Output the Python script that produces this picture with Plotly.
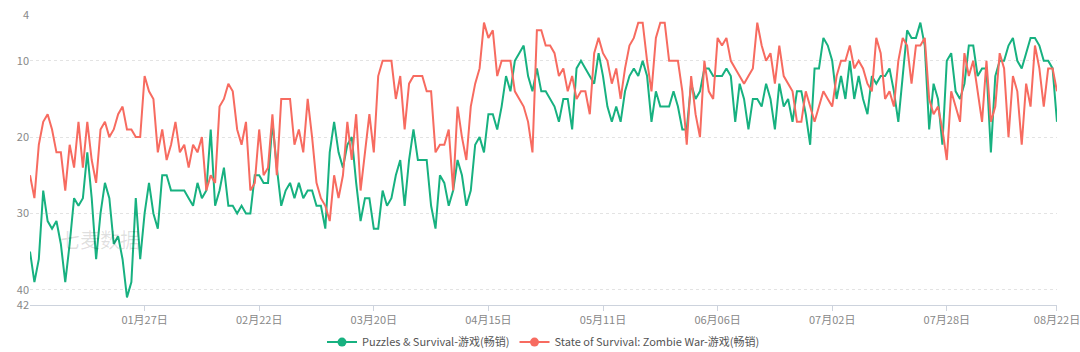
import pandas as pd
import plotly.graph_objects as go

start_date = "2022-01-01"
end_date = "2022-08-22"

puzzles_name = "Puzzles & Survival-游戏(畅销)"
state_name = "State of Survival: Zombie War-游戏(畅销)"

puzzles_rank = [
    35, 39, 36, 27, 31, 32, 31, 34, 39, 34,
    28, 29, 28, 22, 28, 36, 30, 26, 28, 34,
    33, 36, 41, 39, 28, 36, 30, 26, 30, 32,
    25, 25, 27, 27, 27, 27, 28, 29, 26, 28,
    27, 19, 29, 27, 24, 29, 29, 30,
    29, 30, 30, 25, 25, 26, 26, 18, 24, 29,
    27, 26, 28, 26, 28, 27, 27, 29, 29, 32,
    22, 18, 22, 24, 21, 20, 26, 31, 28, 28,
    32, 32, 27, 29, 28, 25, 23, 29, 23, 19,
    23, 23, 23, 29, 32, 25, 26, 29,
    27, 23, 25, 29, 27, 21, 20, 22, 17, 17,
    19, 16, 12, 14, 10, 9, 8, 12, 14, 11,
    14, 14, 15, 16, 18, 15, 15, 19, 11, 10,
    11, 12, 13, 9, 12, 16, 18, 16, 18, 14,
    12, 11, 12, 10, 12, 18, 14, 16,
    16, 16, 14, 16, 19, 19, 13, 15, 14, 11,
    11, 12, 12, 12, 11, 12, 18, 13, 15, 19,
    15, 15, 16, 13, 15, 19, 13, 16, 15, 18,
    14, 14, 17, 21, 11, 11, 7, 8, 10, 15,
    12, 15, 10, 15, 12, 15, 17, 12, 13, 12,
    12, 11, 14, 18, 12, 6, 7, 7, 5, 8,
    19, 13, 15, 21, 10, 9, 14, 15, 13, 8,
    8, 12, 11, 11, 22, 12, 10, 10, 8, 7,
    10, 11, 9, 7, 7, 8, 10, 10, 11, 18,
]

state_rank = [
    25, 28, 21, 18, 17, 19, 22, 22, 27, 21,
    24, 18, 24, 18, 23, 26, 19, 18, 20, 19,
    17, 16, 19, 19, 20, 20, 12, 14, 15, 22,
    19, 23, 21, 18, 22, 21, 24, 21, 22, 20,
    27, 25, 26, 16, 15, 13, 14, 19,
    21, 18, 27, 26, 19, 25, 24, 17, 25, 15,
    15, 15, 21, 19, 22, 15, 20, 26, 28, 29,
    31, 25, 28, 25, 18, 23, 17, 27, 22, 17,
    22, 12, 10, 10, 10, 15, 12, 19, 13, 12,
    12, 12, 14, 14, 22, 21, 21, 19,
    27, 16, 20, 23, 16, 13, 11, 5, 7, 6,
    12, 10, 10, 10, 14, 15, 16, 18, 22, 6,
    6, 8, 8, 9, 12, 11, 14, 12, 15, 14,
    14, 17, 9, 7, 9, 10, 13, 11, 15, 11,
    8, 7, 5, 5, 10, 14, 7, 5,
    5, 10, 10, 10, 14, 21, 12, 17, 20, 10,
    14, 15, 7, 8, 7, 10, 11, 12, 13, 12,
    11, 5, 8, 10, 9, 13, 8, 12, 13, 14,
    18, 18, 14, 16, 18, 16, 14, 15, 16, 12,
    10, 10, 8, 11, 10, 11, 13, 14, 7, 9,
    15, 14, 16, 10, 7, 8, 13, 8, 8, 7,
    15, 17, 16, 19, 23, 14, 16, 18, 9, 12,
    10, 14, 18, 10, 18, 16, 9, 11, 20, 12,
    14, 21, 13, 16, 8, 11, 16, 11, 11, 14,
]

x_tick_dates = ["2022-01-27", "2022-02-22", "2022-03-20", "2022-04-15",
                "2022-05-11", "2022-06-06", "2022-07-02", "2022-07-28", "2022-08-22"]
x_tick_labels = ["01月27日", "02月22日", "03月20日", "04月15日",
                 "05月11日", "06月06日", "07月02日", "07月28日", "08月22日"]
y_tick_vals = [4, 10, 20, 30, 40, 42]

dates = pd.date_range(start_date, end_date, freq="D")

green = "#17b180"
red = "#f76b60"
font_family = "Noto Sans CJK SC, Noto Sans, sans-serif"

fig = go.Figure()
fig.add_trace(go.Scatter(x=dates, y=puzzles_rank, mode="lines",
                         line=dict(color=green, width=2), showlegend=False,
                         name=puzzles_name))
fig.add_trace(go.Scatter(x=dates, y=state_rank, mode="lines",
                         line=dict(color=red, width=2), showlegend=False,
                         name=state_name))
# legend entries
fig.add_trace(go.Scatter(x=[None], y=[None], mode="lines+markers",
                         line=dict(color=green, width=2),
                         marker=dict(size=9, color=green), name=puzzles_name))
fig.add_trace(go.Scatter(x=[None], y=[None], mode="lines+markers",
                         line=dict(color=red, width=2),
                         marker=dict(size=9, color=red), name=state_name))

fig.update_layout(
    width=1080, height=352,
    margin=dict(l=30, r=23, t=15, b=47, autoexpand=False),
    paper_bgcolor="white", plot_bgcolor="white",
    font=dict(family=font_family, size=11, color="#888"),
    legend=dict(orientation="h", x=0.5, xanchor="center", y=-0.128, yanchor="middle",
                font=dict(size=11, color="#555"), itemwidth=30, tracegroupgap=0),
    annotations=[dict(text="七麦数据", x=0.027, y=0.225, xref="paper", yref="paper",
                      xanchor="left", yanchor="middle", showarrow=False,
                      font=dict(size=20, color="rgba(0,0,0,0.13)", family=font_family))],
)
fig.update_xaxes(
    range=[dates[0], pd.Timestamp(end_date) + pd.Timedelta(minutes=2)],
    tickmode="array", tickvals=x_tick_dates, ticktext=x_tick_labels,
    showgrid=False, showline=True, linecolor="#cdd3dd", linewidth=1,
    ticks="outside", ticklen=5, tickcolor="#cdd3dd",
    tickfont=dict(size=11, color="#888"), zeroline=False,
    ticklabeloverflow="allow",
)
fig.update_yaxes(
    range=[42, 4], tickmode="array", tickvals=y_tick_vals,
    showgrid=True, gridcolor="#e3e3e3", griddash="dot", gridwidth=1,
    showline=False, zeroline=False, ticks="",
    tickfont=dict(size=11, color="#888"),
)

fig.write_html("out.html")
